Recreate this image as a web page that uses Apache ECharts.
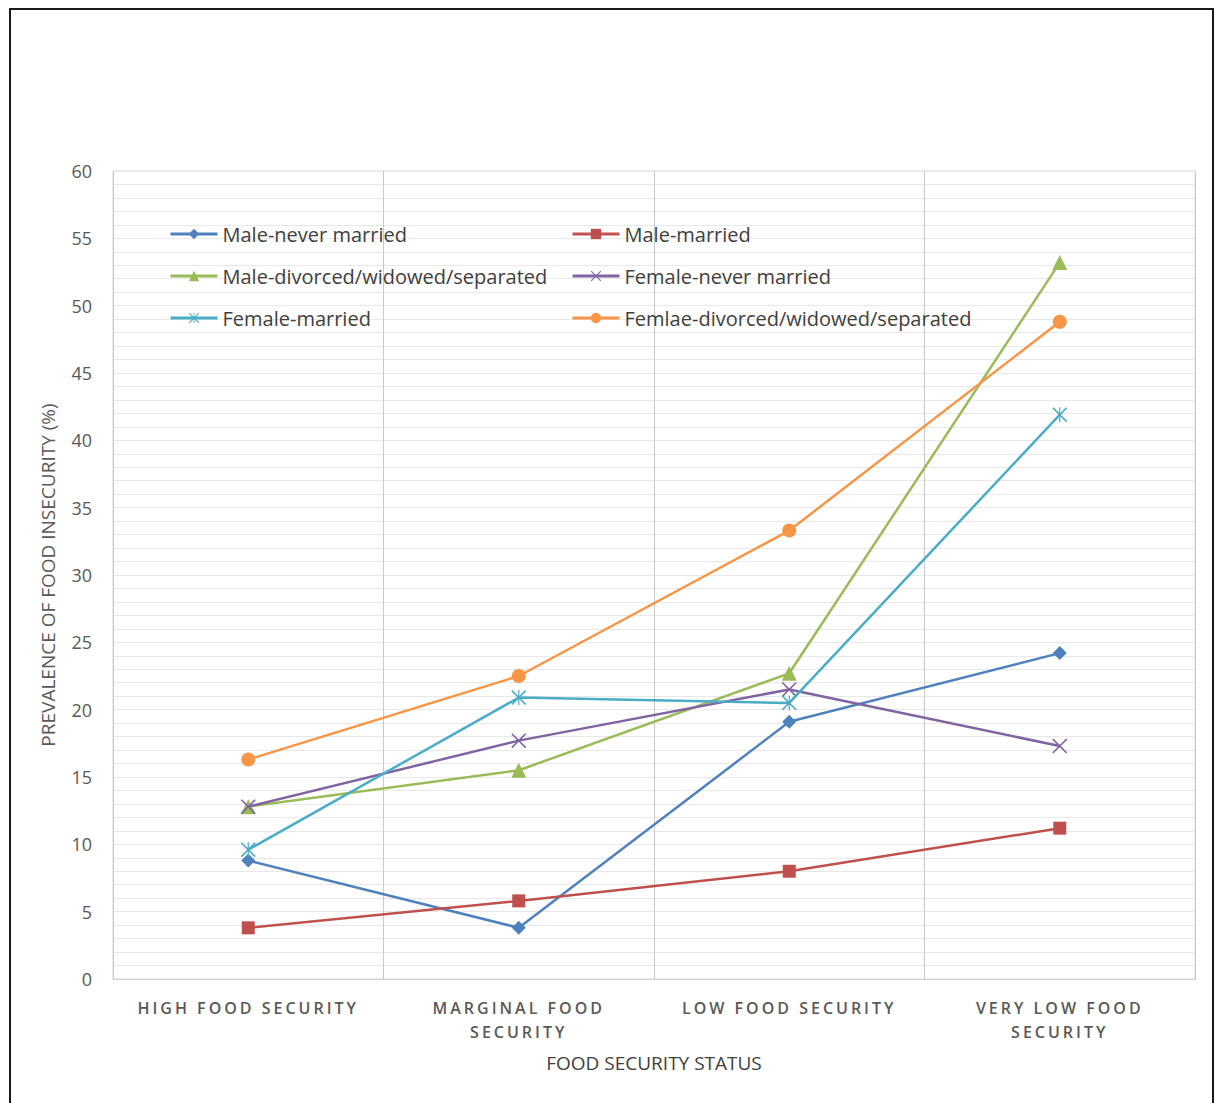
<!DOCTYPE html>
<html>
<head>
<meta charset="utf-8">
<script src="https://cdn.jsdelivr.net/npm/echarts@6/dist/echarts.min.js"></script>
<style>
html,body{margin:0;padding:0;background:#fff;}
#chart{width:1216px;height:1103px;}
</style>
</head>
<body>
<div id="chart"></div>
<script>
const categories = ['HIGH FOOD SECURITY', 'MARGINAL FOOD\nSECURITY', 'LOW FOOD SECURITY', 'VERY LOW FOOD\nSECURITY'];
const seriesNames = ['Male-never married', 'Male-married', 'Male-divorced/widowed/separated', 'Female-never married', 'Female-married', 'Femlae-divorced/widowed/separated'];
const maleNeverMarried = [8.8, 3.8, 19.1, 24.2];
const maleMarried = [3.8, 5.8, 8.0, 11.2];
const maleDivorced = [12.8, 15.5, 22.7, 53.2];
const femaleNeverMarried = [12.8, 17.7, 21.5, 17.3];
const femaleMarried = [9.6, 20.9, 20.5, 41.9];
const femaleDivorced = [16.3, 22.5, 33.3, 48.8];
const yTicks = [0, 5, 10, 15, 20, 25, 30, 35, 40, 45, 50, 55, 60];

const colors = ['#4F81BD', '#C0504D', '#9BBB59', '#8064A2', '#4BACC6', '#F79646'];
const xPath = 'path://M1.5,0 L10,8.5 L18.5,0 L20,1.5 L11.5,10 L20,18.5 L18.5,20 L10,11.5 L1.5,20 L0,18.5 L8.5,10 L0,1.5 Z';
const starPath = 'path://M1.5,0 L10,8.5 L18.5,0 L20,1.5 L11.5,10 L20,18.5 L18.5,20 L10,11.5 L1.5,20 L0,18.5 L8.5,10 L0,1.5 Z M9.2,0 L10.8,0 L10.8,20 L9.2,20 Z';
const symbols = ['diamond', 'rect', 'triangle', xPath, starPath, 'circle'];
const sizes = [14, 13, 15, 15, 15, 14];
const dataSets = [maleNeverMarried, maleMarried, maleDivorced, femaleNeverMarried, femaleMarried, femaleDivorced];

const series = dataSets.map((d, i) => ({
  name: seriesNames[i],
  type: 'line',
  data: d,
  symbol: symbols[i],
  symbolSize: sizes[i],
  showAllSymbol: true,
  lineStyle: { color: colors[i], width: 2.5 },
  itemStyle: { color: colors[i] },
  z: 2 + i
}));

const legendText = { fontFamily: 'Open Sans', fontSize: 20, color: '#404040', lineHeight: 20 };
const legendBase = {
  orient: 'vertical', top: 219, itemGap: 22,
  itemWidth: 47, itemHeight: 13, textStyle: legendText,
  lineStyle: { width: 3 }
};

const chart = echarts.init(document.getElementById('chart'), null, { renderer: 'svg' });
chart.setOption({
  animation: false,
  backgroundColor: '#fff',
  color: colors,
  grid: { left: 113, right: 21, top: 171, bottom: 124, show: true, borderColor: '#d9d9d9', borderWidth: 1 },
  legend: [
    Object.assign({}, legendBase, { data: seriesNames.filter((_, i) => i % 2 === 0), left: 164 }),
    Object.assign({}, legendBase, { data: seriesNames.filter((_, i) => i % 2 === 1), left: 566 })
  ],
  xAxis: {
    type: 'category',
    data: categories,
    boundaryGap: true,
    name: 'FOOD SECURITY STATUS',
    nameLocation: 'middle',
    nameGap: 74,
    nameTextStyle: { fontFamily: 'Open Sans', fontSize: 19, color: '#404040' },
    axisLine: { show: true, lineStyle: { color: '#d0d0d0', width: 1 } },
    axisTick: { show: false },
    splitLine: { show: true, lineStyle: { color: '#c8c8c8', width: 1 } },
    axisLabel: {
      interval: 0, margin: 17,
      fontFamily: 'Open Sans', fontSize: 16, fontWeight: 600, color: '#595959',
      lineHeight: 24
    }
  },
  yAxis: {
    type: 'value',
    min: 0, max: 60, interval: 1,
    name: 'PREVALENCE OF FOOD INSECURITY (%)',
    nameLocation: 'middle',
    nameGap: 56,
    nameRotate: 90,
    nameTextStyle: { fontFamily: 'Open Sans', fontSize: 19, color: '#595959' },
    axisLine: { show: false },
    axisTick: { show: false },
    splitLine: { show: true, lineStyle: { color: '#e8e8e8', width: 1 } },
    axisLabel: {
      margin: 21,
      fontFamily: 'Open Sans', fontSize: 18, color: '#595959',
      formatter: v => (yTicks.indexOf(v) >= 0 ? String(v) : '')
    }
  },
  graphic: [
    {
      type: 'polyline',
      silent: true,
      shape: { points: [[10, 1110], [10, 9], [1213, 9], [1213, 1110]] },
      style: { stroke: '#1a1a1a', lineWidth: 2, fill: null }
    }
  ],
  series: series
});

function spaceAxisLabels() {
  const lines = new Set();
  categories.forEach(c => c.split('\n').forEach(l => lines.add(l)));
  document.querySelectorAll('#chart svg text').forEach(t => {
    if (lines.has(t.textContent)) {
      t.style.letterSpacing = '3px';
    }
  });
}
spaceAxisLabels();
chart.on('finished', spaceAxisLabels);
</script>
</body>
</html>
